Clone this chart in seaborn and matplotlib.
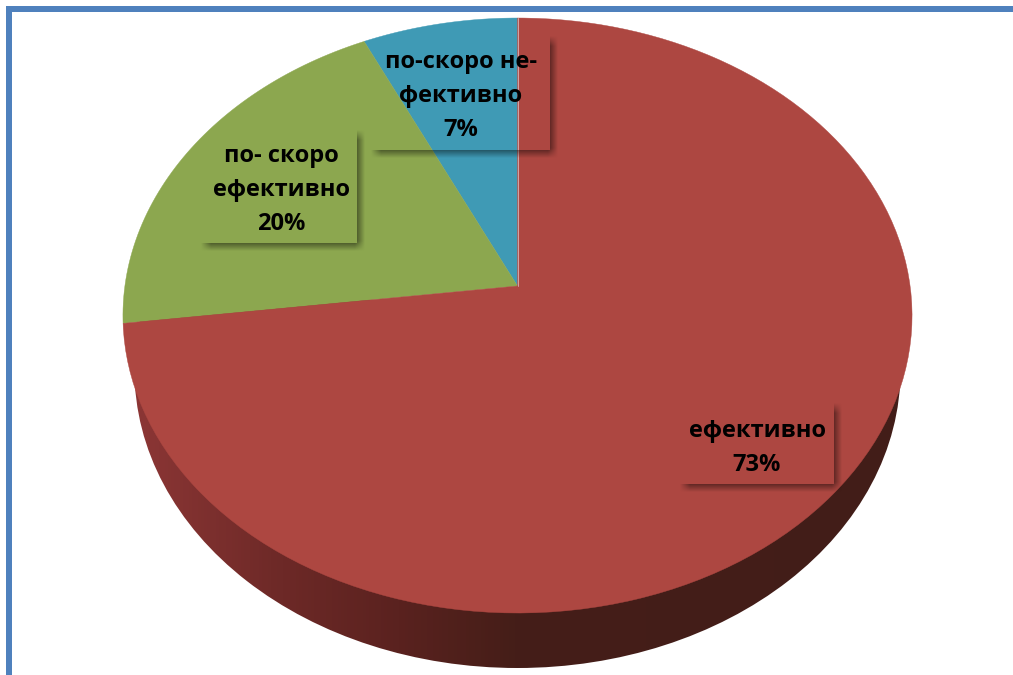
import numpy as np
import seaborn as sns
import matplotlib.pyplot as plt
from matplotlib.colors import LinearSegmentedColormap
from matplotlib.patches import Ellipse, Polygon, Rectangle
from matplotlib.transforms import Affine2D

# counter-clockwise from 12 o'clock, same order as the slices in the picture
categories = ['по-скоро не-\nфективно', 'по- скоро\nефективно', 'ефективно']
values = [7, 20, 73]
slice_colors = ['#3f9ab5', '#8ca74f', '#ad4741']

# label centres and their boxes, in pixels
label_pos = [(461, 96), (281, 190), (757, 448)]
label_boxes = [(373, 38, 550, 150), (203, 132, 357, 243), (682, 405, 834, 484)]

W, H = 1013, 675

# perspective of the top face
CX, APEX_Y, K, A, B = 517.5, 286.0, 0.0992, 392.6, -266.2


def project(pts):
    # unit circle pie -> tilted pie in pixels
    u, v = pts[:, 0], pts[:, 1]
    d = 1 + K * v
    return np.column_stack([CX + A * u / d, (APEX_Y + B * v) / d])


def draw_shadow(ax, box, off=3, soft=5):
    # soft shadow, only visible outside the box
    x0, y0, x1, y1 = box
    xs = np.arange(x0 - 4, x1 + 14)
    ys = np.arange(y0 - 4, y1 + 14)
    gx, gy = np.meshgrid(xs + 0.5, ys + 0.5)
    ramp_x = np.clip((gx - x0 - off + soft) / (2 * soft), 0, 1) * np.clip((x1 + off + soft - gx) / (2 * soft), 0, 1)
    ramp_y = np.clip((gy - y0 - off + soft) / (2 * soft), 0, 1) * np.clip((y1 + off + soft - gy) / (2 * soft), 0, 1)
    alpha = 0.55 * ramp_x * ramp_y
    alpha[(gx < x1) & (gy < y1)] = 0
    rgba = np.zeros(alpha.shape + (4,))
    rgba[..., 3] = alpha
    ax.imshow(rgba, extent=(xs[0], xs[-1] + 1, ys[-1] + 1, ys[0]), zorder=5, interpolation='bilinear', aspect='auto')


sns.set_theme(style='white')
plt.rcParams['font.family'] = ['Open Sans', 'DejaVu Sans']

fig = plt.figure(figsize=(W / 100, H / 100), dpi=100)
ax = fig.add_axes([0, 0, 1, 1])

palette = sns.color_palette(slice_colors)
wedges, _ = ax.pie(values, colors=palette, startangle=90, radius=1)

# side of the pie: gradient clipped to the lower ellipse
side_cmap = LinearSegmentedColormap.from_list('side', [
    (0.0, '#8e3736'), (0.2, '#6d2927'), (0.35, '#5a221f'), (0.5, '#451e18'), (1.0, '#421d18')])
side = ax.imshow(np.linspace(0, 1, 256)[None, :], cmap=side_cmap, extent=(125, 905, 680, 300), aspect='auto', zorder=1)
rim = Ellipse((517.5, 370.5), 2 * 383, 2 * 297.5, transform=ax.transData, facecolor='none', edgecolor='none')
ax.add_patch(rim)
side.set_clip_path(rim)

# top face: take the pie wedges and put them in perspective
for w, col in zip(wedges, palette):
    poly = w.get_path().to_polygons(Affine2D().scale(1000), closed_only=True)[0] / 1000
    w.set_visible(False)
    ax.add_patch(Polygon(project(poly), closed=True, facecolor=col, edgecolor=col, linewidth=0.3, zorder=2))

# pale seam between blue and red
seam = project(np.array([[0.0, 0.0], [0.0, 1.0]]))
ax.plot(seam[:, 0], seam[:, 1], color='#d8b4b8', linewidth=0.6, zorder=3)

for box in label_boxes:
    draw_shadow(ax, box)

for cat, val, pos in zip(categories, values, label_pos):
    ax.text(pos[0], pos[1], f'{cat}\n{val}%', ha='center', va='center', fontsize=17,
            fontweight='bold', color='black', linespacing=1.58, zorder=6)

# blue frame of the page
frame = '#4f81bd'
ax.add_patch(Rectangle((6, 6), W - 6, 6, facecolor=frame, edgecolor='none', zorder=7))
ax.add_patch(Rectangle((6, 6), 5.5, H - 6, facecolor=frame, edgecolor='none', zorder=7))

ax.set_aspect('auto')
ax.set_xlim(0, W)
ax.set_ylim(H, 0)
ax.axis('off')

fig.savefig('out.png', dpi=100)
